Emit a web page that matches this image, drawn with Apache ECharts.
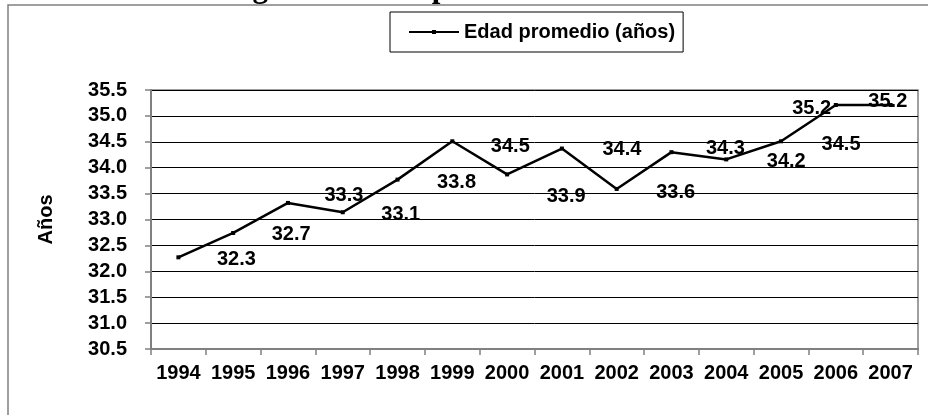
<!DOCTYPE html>
<html>
<head>
<meta charset="utf-8">
<script src="https://cdn.jsdelivr.net/npm/echarts@6/dist/echarts.min.js"></script>
<style>
  html, body { margin: 0; padding: 0; background: #fff; }
  #chart { width: 928px; height: 415px; }
</style>
</head>
<body>
<div id="chart"></div>
<script>
const years = ["1994", "1995", "1996", "1997", "1998", "1999", "2000",
  "2001", "2002", "2003", "2004", "2005", "2006", "2007"];
const edadPromedio = [32.27, 32.74, 33.32, 33.14, 33.77, 34.51, 33.87,
  34.37, 33.59, 34.30, 34.16, 34.51, 35.21, 35.21];
const seriesName = "Edad promedio (años)";
const yName = "Años";
const titleText = "Figura 1. Edad promedio";

// the data labels sit away from their points, as in the original
const labelOffsets = [[58, 2], [58, 2], [56, -7], [58, 2], [59, 3], [58, 5], [59, 22],
  [60, 1], [59, 4], [54, -4], [60, 2], [60, 3], [52, -4], [-79, 3]];

const font = "'Liberation Sans', Arial, sans-serif";
const gray = "#808080";

let myChart = echarts.init(document.getElementById("chart"));
let option = {
  animation: false,
  graphic: [
    {
      type: "rect",
      shape: { x: 8, y: 5, width: 960, height: 440 },
      style: { fill: "none", stroke: gray, lineWidth: 1.5 },
      silent: true,
    },
    {
      type: "text",
      style: {
        text: titleText,
        x: 225,
        y: 4,
        verticalAlign: "bottom",
        font: "bold 31px 'Liberation Serif', 'Times New Roman', serif",
        fill: "#000",
      },
      silent: true,
    },
  ],
  legend: {
    data: [seriesName],
    left: 390,
    top: 12,
    padding: [10, 8, 10, 18],
    borderColor: "#000",
    borderWidth: 1,
    itemWidth: 50,
    itemHeight: 5,
    textStyle: { color: "#000", fontWeight: "bold", fontSize: 20, fontFamily: font },
  },
  grid: {
    left: 151,
    right: 10,
    top: 90,
    bottom: 66,
    show: true,
    borderColor: gray,
    borderWidth: 1.5,
  },
  xAxis: {
    type: "category",
    data: years,
    boundaryGap: true,
    axisLine: { lineStyle: { color: gray, width: 2 } },
    axisTick: { show: true, interval: 0, length: 6, lineStyle: { color: gray, width: 1.5 } },
    axisLabel: {
      interval: 0,
      margin: 14,
      color: "#000",
      fontWeight: "bold",
      fontSize: 20,
      fontFamily: font,
    },
  },
  yAxis: {
    type: "value",
    min: 30.5,
    max: 35.5,
    interval: 0.5,
    name: yName,
    nameLocation: "middle",
    nameGap: 95,
    nameTextStyle: { color: "#000", fontWeight: "bold", fontSize: 20, fontFamily: font },
    axisLine: { show: true, lineStyle: { color: gray, width: 2 } },
    axisTick: { show: true, length: 6, lineStyle: { color: gray, width: 1.5 } },
    axisLabel: {
      margin: 24,
      color: "#000",
      fontWeight: "bold",
      fontSize: 20,
      fontFamily: font,
      formatter: (v) => v.toFixed(1),
    },
    splitLine: { show: true, lineStyle: { color: "#000", width: 1 } },
  },
  series: [
    {
      name: seriesName,
      type: "line",
      data: edadPromedio.map((v, i) => ({ value: v, label: { offset: labelOffsets[i] } })),
      symbol: "rect",
      symbolSize: 4,
      lineStyle: { color: "#000", width: 2.5 },
      itemStyle: { color: "#000" },
      label: {
        show: true,
        position: "inside",
        color: "#000",
        fontWeight: "bold",
        fontSize: 20,
        fontFamily: font,
        formatter: (p) => p.value.toFixed(1),
      },
    },
  ],
};
myChart.setOption(option);
</script>
</body>
</html>
